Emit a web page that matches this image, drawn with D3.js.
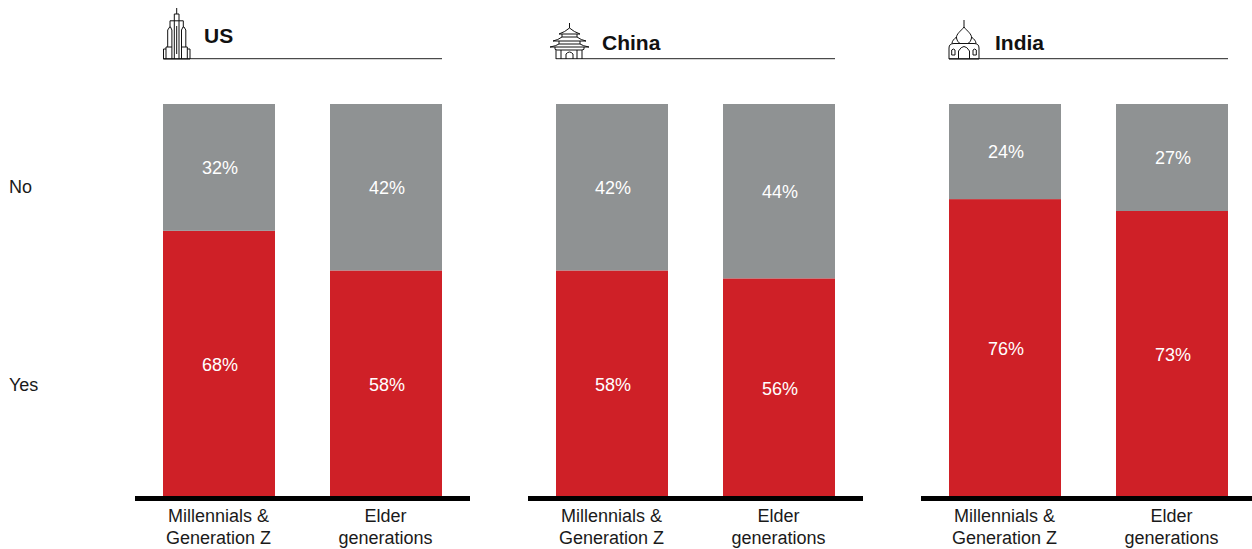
<!DOCTYPE html>
<html><head><meta charset="utf-8">
<script src="https://cdn.jsdelivr.net/npm/d3@7/dist/d3.min.js"></script>
<style>html,body{margin:0;background:#fff}svg{display:block}text{font-family:"Liberation Sans",Arial,sans-serif}</style>
</head><body><svg id="c" width="1252" height="549"></svg>
<script>
const regions = ["US","China","India"];
const groups = ["Millennials & Generation Z","Elder generations"];
const groupLines = [["Millennials &","Generation Z"],["Elder","generations"]];
const seriesNames = ["Yes","No"];
const yesValues = [[68,58],[58,56],[76,73]];
const noValues = [[32,42],[42,44],[24,27]];
const red = "#cf2027", grey = "#8f9293";

const svg = d3.select("#c");
const axisTop = 496;
const y = d3.scaleLinear().domain([0,100]).range([500.3,104]);
const panelX = d3.scalePoint().domain(regions).range([163,949]);
const titleX = {US:204,China:602,India:995};
const titleY = {US:42.5,China:50,India:50};

svg.append("text").attr("x",9).attr("y",192.5).attr("font-size",18).attr("fill","#1a1a1a").text(seriesNames[1]);
svg.append("text").attr("x",9).attr("y",390.5).attr("font-size",18).attr("fill","#1a1a1a").text(seriesNames[0]);

const icons = {
 US:"M13.7,-51V-45M11.3,-38V-45H16V-38M7,-32V-38.2H20.3V-32M4.7,-12V-29L6.7,-32H7.5L8.9,-29V-12M18.5,-12V-29L20,-32H21L22.8,-29V-12M11.3,-38V0M16,-38V0M13.7,-33V-5M3,0V-12H8.9V0M18.5,0V-12H24.3V0M0.5,0V-10H3M24.3,-10H27V0M0.5,0H27",
 China:"M13.5,-36V-31M13.5,-31Q9,-27 3,-25H24Q18,-27 13.5,-31ZM6,-25V-22H21V-25M6,-22Q2,-19 -3,-18H30Q25,-19 21,-22M3,-18V-15H24V-18M3,-15Q0,-13 -6,-12H33Q27,-13 24,-15M-1,-12Q-2,-9 1,-9H26Q29,-9 28,-12M0,0V-9M26,0V-9M5,0V-9M21,0V-9M10,0V-5Q13.5,-9 17,-5V0",
 India:"M15,-39V-32M15,-32C12,-28 7,-25 7.5,-21C8,-18 10,-16 11,-15.5M15,-32C18,-28 23,-25 22.5,-21C22,-18 20,-16 19,-15.5M7.5,-22C5,-20 3,-18 3,-15.5M22.5,-22C25,-20 27,-18 27,-15.5M0,0V-11Q0,-15.5 5,-15.5H25Q30,-15.5 30,-11V0ZM9.5,0V-8Q15,-17 20.5,-8V0M2.7,-4V-9Q4.4,-11 6,-9V-4ZM24,-4V-9Q25.7,-11 27.3,-9V-4Z"
};

regions.forEach((r,i)=>{
  const x0 = panelX(r);
  const g = svg.append("g").attr("class","panel");
  const x = d3.scaleBand().domain(groups).range([x0,x0+279]).paddingInner(55/167).paddingOuter(0);

  g.append("line").attr("x1",x0).attr("x2",x0+279).attr("y1",58.7).attr("y2",58.7).attr("stroke","#222").attr("stroke-width",1);
  g.append("text").attr("x",titleX[r]).attr("y",titleY[r]).attr("font-size",21).attr("font-weight",700).attr("fill","#111").text(r);
  g.append("path").attr("transform",`translate(${x0},59)`).attr("fill","none").attr("stroke","#111").attr("stroke-width",1).attr("d",icons[r]);

  groups.forEach((gr,j)=>{
    const yes = yesValues[i][j], no = noValues[i][j];
    g.append("rect").attr("x",x(gr)).attr("width",x.bandwidth()).attr("y",y(yes)).attr("height",y(0)-y(yes)).attr("fill",red);
    g.append("rect").attr("x",x(gr)).attr("width",x.bandwidth()).attr("y",y(100)).attr("height",y(yes)-y(100)).attr("fill",grey);
    const cx = x(gr)+x.bandwidth()/2;
    g.append("text").attr("x",cx+1).attr("y",(y(yes)+axisTop)/2+7.8).attr("text-anchor","middle").attr("font-size",18).attr("fill","#fff").text(yes+"%");
    g.append("text").attr("x",cx+1).attr("y",(y(100)+y(yes))/2+6.5).attr("text-anchor","middle").attr("font-size",18).attr("fill","#fff").text(no+"%");
    groupLines[j].forEach((t,k)=>g.append("text").attr("x",cx-0.5).attr("y",522+k*22).attr("text-anchor","middle").attr("font-size",18).attr("fill","#1a1a1a").text(t));
  });
  g.append("rect").attr("x",x0-28).attr("width",335).attr("y",axisTop).attr("height",5).attr("fill","#000");
});
</script></body></html>
